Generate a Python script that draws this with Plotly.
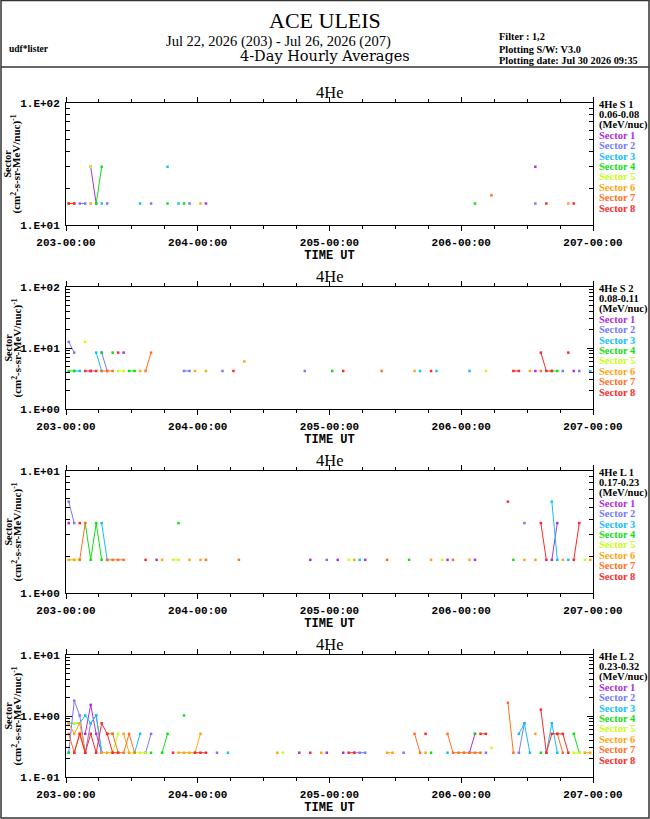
import plotly.graph_objects as go

# ---------------- data (hour index 0..95 from 203-00:00, value) ----------------
SECTOR_NAMES = ["Sector 1", "Sector 2", "Sector 3", "Sector 4",
                "Sector 5", "Sector 6", "Sector 7", "Sector 8"]
SECTOR_COLORS = ["#b030d8", "#7878ff", "#10c0ff", "#10e010",
                 "#c8ff10", "#ffa510", "#ff7020", "#ff2828"]

DAY_TICKS = [0, 24, 48, 72, 96]
DAY_LABELS = ["203-00:00", "204-00:00", "205-00:00", "206-00:00", "207-00:00"]

PANEL_TITLES = ["4He", "4He", "4He", "4He"]
PANEL_CHANNELS = ["4He S 1", "4He S 2", "4He L 1", "4He L 2"]
PANEL_ENERGIES = ["0.06-0.08", "0.08-0.11", "0.17-0.23", "0.23-0.32"]
PANEL_YRANGE_LOG = [(1, 2), (0, 2), (0, 1), (-1, 1)]

# 4He S 1
S1_DATA = [
    [(4, 30), (5, 15), (25, 15), (85, 30)],
    [(2, 15), (3, 15), (7, 15), (15, 15), (22, 15), (85, 15)],
    [(6, 15), (13, 15), (18, 30), (20, 15)],
    [(5, 15), (6, 30), (18, 15), (21, 15), (74, 15)],
    [(4, 30)],
    [(4, 15), (24, 15), (91, 15)],
    [(0, 15), (1, 15), (77, 17.5)],
    [(0, 15), (1, 15), (87, 15), (92, 15)],
]
# 4He S 2
S2_DATA = [
    [(4, 4.2), (10, 8.4), (85, 4.2), (92, 4.2)],
    [(0, 12.6), (1, 8.4), (6, 8.4), (7, 4.2), (21, 4.2), (22, 4.2), (28, 4.2),
     (43, 4.2), (90, 4.2), (93, 4.2)],
    [(1, 4.2), (2, 4.2), (5, 8.4), (6, 4.2), (64, 4.2), (67, 4.2), (73, 4.2), (95, 4.2)],
    [(0, 4.2), (1, 4.2), (6, 8.4), (8, 8.4), (11, 4.2), (12, 4.2), (48, 4.2),
     (88, 4.2), (89, 4.2)],
    [(3, 12.6), (9, 4.2), (10, 4.2), (76, 4.2)],
    [(13, 4.2), (23, 4.2), (25, 4.2), (32, 6.0), (63, 4.2), (84, 4.2)],
    [(6, 4.2), (7, 4.2), (8, 4.2), (14, 4.2), (15, 8.4), (57, 4.2), (86, 4.2)],
    [(3, 4.2), (4, 4.2), (5, 4.2), (9, 8.4), (30, 4.2), (50, 4.2), (66, 4.2),
     (81, 4.2), (82, 4.2), (86, 8.4), (87, 4.2), (88, 4.2), (91, 8.4)],
]
# 4He L 1
L1_DATA = [
    [(0, 3.74), (16, 1.87), (44, 1.87), (49, 1.87), (54, 1.87), (69, 1.87),
     (74, 1.87), (88, 1.87), (89, 3.74)],
    [(0, 5.61), (1, 3.74), (47, 1.87), (83, 3.74)],
    [(6, 3.74), (7, 1.87), (53, 1.87), (88, 5.61), (89, 1.87), (91, 1.87)],
    [(3, 3.74), (4, 1.87), (5, 3.74), (6, 1.87), (20, 3.74), (62, 1.87), (81, 1.87)],
    [(1, 1.87), (2, 1.87), (19, 1.87), (20, 1.87), (51, 1.87), (68, 1.87), (94, 1.87)],
    [(0, 1.87), (1, 1.87), (17, 1.87), (22, 1.87), (24, 1.87), (52, 1.87),
     (66, 1.87), (73, 1.87), (83, 1.87), (85, 1.87), (90, 1.87), (95, 1.87)],
    [(2, 1.87), (3, 3.74), (7, 1.87), (8, 1.87), (9, 1.87), (10, 1.87),
     (25, 1.87), (31, 1.87), (58, 1.87), (70, 1.87)],
    [(2, 3.74), (14, 1.87), (80, 5.61), (86, 3.74), (87, 1.87), (92, 1.87), (93, 3.74)],
]
# 4He L 2
L2_DATA = [
    [(3, 0.51), (4, 1.52), (5, 0.51), (6, 0.25), (42, 0.25), (47, 0.25),
     (50, 0.25), (73, 0.25), (74, 0.51)],
    [(0, 0.25), (1, 1.78), (2, 1.02), (3, 0.25), (4, 0.76), (5, 1.02), (6, 0.25),
     (14, 0.25), (15, 0.51), (27, 0.25), (52, 0.25), (53, 0.25), (54, 0.25),
     (61, 0.25), (76, 0.25), (82, 0.25), (83, 0.76)],
    [(0, 0.76), (1, 0.76), (2, 0.76), (3, 1.02), (4, 0.76), (5, 1.02), (6, 0.25),
     (12, 0.25), (13, 0.51), (29, 0.25), (69, 0.25), (82, 0.51), (83, 0.76),
     (84, 0.25), (87, 0.25), (88, 0.76), (89, 0.25)],
    [(0, 0.25), (8, 0.51), (15, 0.25), (17, 0.25), (18, 0.51), (21, 1.02),
     (66, 0.25), (74, 0.51), (86, 0.25), (92, 0.51), (93, 0.25)],
    [(1, 0.76), (2, 0.76), (8, 0.25), (9, 0.51), (11, 0.25), (12, 0.25),
     (13, 0.25), (14, 0.25), (39, 0.25), (77, 0.30), (92, 0.25), (93, 0.25)],
    [(0, 0.76), (1, 0.51), (2, 0.76), (3, 0.25), (6, 0.25), (7, 0.25), (8, 0.25),
     (10, 0.51), (11, 0.25), (20, 0.25), (21, 0.25), (22, 0.25), (23, 0.25),
     (24, 0.51), (38, 0.25), (46, 0.25), (58, 0.25), (59, 0.25), (65, 0.25),
     (72, 0.25), (85, 0.51), (94, 0.25), (95, 0.25)],
    [(0, 0.51), (1, 0.25), (2, 0.51), (3, 0.25), (7, 0.51), (8, 0.51), (9, 0.25),
     (10, 0.25), (11, 0.51), (12, 0.25), (63, 0.51), (64, 0.25), (69, 0.51),
     (70, 0.25), (71, 0.25), (72, 0.25), (73, 0.25), (74, 0.25), (75, 0.25),
     (80, 1.65), (81, 0.25), (89, 0.51), (90, 0.25)],
    [(1, 0.25), (2, 0.51), (3, 0.25), (4, 0.51), (5, 0.25), (6, 0.76), (7, 0.51),
     (8, 0.25), (9, 0.25), (19, 0.25), (23, 0.25), (24, 0.25), (25, 0.25),
     (44, 0.25), (51, 0.25), (52, 0.25), (65, 0.51), (75, 0.51), (76, 0.51),
     (86, 1.27), (87, 0.25), (88, 0.51), (89, 0.51), (90, 0.51), (91, 0.25)],
]
PANEL_DATA = [S1_DATA, S2_DATA, L1_DATA, L2_DATA]
N_HOURS = 96

# ---------------- layout geometry ----------------
W, H = 650, 819
X_LEFT, X_RIGHT = 66, 593
PANEL_TOPS = [103, 287, 471, 655]
PANEL_HEIGHT = 122
MONO = "Liberation Mono"
SERIF = "Liberation Serif"
WIDE_SERIF = "DejaVu Serif"


def px(p):
    return p / W


def py(p):
    return 1 - p / H


def series(pairs):
    y = [None] * N_HOURS
    for h, v in pairs:
        y[h] = v
    return y


hour_x = [h + 0.5 for h in range(N_HOURS)]

fig = go.Figure()
annotations = []
layout = {}

for i in range(4):
    n = "" if i == 0 else str(i + 1)
    for s in range(8):
        fig.add_trace(go.Scatter(
            x=hour_x, y=series(PANEL_DATA[i][s]), mode="lines+markers",
            line=dict(color=SECTOR_COLORS[s], width=1),
            marker=dict(color=SECTOR_COLORS[s], size=2.5, symbol="square",
                        line=dict(width=0)),
            connectgaps=False, showlegend=False, hoverinfo="skip",
            xaxis="x" + n, yaxis="y" + n))

    top = PANEL_TOPS[i]
    bot = top + PANEL_HEIGHT
    lo, hi = PANEL_YRANGE_LOG[i]
    decades = [10 ** k for k in range(lo, hi + 1)]
    dec_labels = ["1.E%+03d" % k for k in range(lo, hi + 1)]
    minors = [m * 10 ** k for k in range(lo, hi) for m in range(2, 10)]

    layout["xaxis" + n] = dict(
        domain=[px(X_LEFT), px(X_RIGHT)], anchor="y" + n, range=[0, 96],
        automargin=False,
        tickmode="array", tickvals=DAY_TICKS, ticktext=DAY_LABELS,
        ticks="outside", ticklen=5, tickwidth=1, tickcolor="black",
        showline=True, linecolor="black", linewidth=1, mirror="ticks",
        showgrid=False, zeroline=False, ticklabelstandoff=2,
        minor=dict(dtick=6, tick0=0, ticks="outside", ticklen=3,
                   tickcolor="black", tickwidth=1, showgrid=False),
        tickfont=dict(family=MONO, size=11, color="black", weight="bold"),
        title=dict(text="TIME UT", standoff=1,
                   font=dict(family=MONO, size=12, color="black", weight="bold")))
    layout["yaxis" + n] = dict(
        domain=[py(bot), py(top)], anchor="x" + n, type="log",
        automargin=False,
        range=[lo, hi], tickmode="array", tickvals=decades, ticktext=dec_labels,
        ticks="inside", ticklen=6, tickwidth=1, tickcolor="black",
        showline=True, linecolor="black", linewidth=1, mirror="ticks",
        showgrid=False, zeroline=False, ticklabelstandoff=3,
        minor=dict(tickmode="array", tickvals=minors, ticks="inside",
                   ticklen=4, tickcolor="black", tickwidth=1, showgrid=False),
        tickfont=dict(family=MONO, size=11, color="black", weight="bold"))

    # panel title
    annotations.append(dict(
        text=PANEL_TITLES[i], x=px((X_LEFT + X_RIGHT) / 2), y=py(top - 11),
        xref="paper", yref="paper", showarrow=False, xanchor="center",
        yanchor="middle", font=dict(family=SERIF, size=16.5, color="black")))
    # y label
    mid = py(top + PANEL_HEIGHT / 2)
    annotations.append(dict(
        text="Sector", x=px(7.5), y=mid, xref="paper", yref="paper",
        showarrow=False, textangle=-90, xanchor="center", yanchor="middle",
        font=dict(family=SERIF, size=10, color="black", weight="bold")))
    annotations.append(dict(
        text="(cm<sup>2</sup>-s-sr-MeV/nuc)<sup>-1</sup>", x=px(16.5), y=mid,
        xref="paper", yref="paper", showarrow=False, textangle=-90,
        xanchor="center", yanchor="middle",
        font=dict(family=SERIF, size=11, color="black", weight="bold")))
    # right side legend text
    lines = [(PANEL_CHANNELS[i], "black"), (PANEL_ENERGIES[i], "black"),
             ("(MeV/nuc)", "black")] + list(zip(SECTOR_NAMES, SECTOR_COLORS))
    for k, (txt, col) in enumerate(lines):
        annotations.append(dict(
            text=txt, x=px(597), y=py(top + 1.5 + 10.35 * k), xref="paper",
            yref="paper", showarrow=False, xanchor="left", yanchor="middle",
            font=dict(family=SERIF, size=10.5, color=col, weight="bold")))

# header
annotations += [
    dict(text="ACE ULEIS", x=px(325), y=py(20), xref="paper", yref="paper",
         showarrow=False, xanchor="center", yanchor="middle",
         font=dict(family=SERIF, size=22, color="black")),
    dict(text="Jul 22, 2026 (203) - Jul 26, 2026 (207)", x=px(278), y=py(41.5),
         xref="paper", yref="paper", showarrow=False, xanchor="center",
         yanchor="middle", font=dict(family=SERIF, size=14.5, color="black")),
    dict(text="4-Day Hourly Averages", x=px(325), y=py(56.5), xref="paper",
         yref="paper", showarrow=False, xanchor="center", yanchor="middle",
         font=dict(family=WIDE_SERIF, size=14.5, color="black")),
    dict(text="udf*lister", x=px(7), y=py(49), xref="paper", yref="paper",
         showarrow=False, xanchor="left", yanchor="middle",
         font=dict(family=SERIF, size=9.5, color="black", weight="bold")),
    dict(text="Filter : 1,2", x=px(497), y=py(37), xref="paper", yref="paper",
         showarrow=False, xanchor="left", yanchor="middle",
         font=dict(family=SERIF, size=10.3, color="black", weight="bold")),
    dict(text="Plotting S/W: V3.0", x=px(497), y=py(49), xref="paper",
         yref="paper", showarrow=False, xanchor="left", yanchor="middle",
         font=dict(family=SERIF, size=10.3, color="black", weight="bold")),
    dict(text="Plotting date: Jul 30 2026 09:35", x=px(497), y=py(60.5),
         xref="paper", yref="paper", showarrow=False, xanchor="left",
         yanchor="middle",
         font=dict(family=SERIF, size=10.3, color="black", weight="bold")),
]

shapes = [
    dict(type="rect", xref="paper", yref="paper", x0=px(1), x1=px(649),
         y0=py(818), y1=py(0.5), line=dict(color="#333333", width=1.5)),
    dict(type="line", xref="paper", yref="paper", x0=px(1), x1=px(649),
         y0=py(67), y1=py(67), line=dict(color="#333333", width=1.5)),
]

fig.update_layout(
    width=W, height=H,
    margin=dict(l=0, r=0, t=0, b=0, pad=0, autoexpand=False),
    paper_bgcolor="white", plot_bgcolor="white",
    annotations=annotations, shapes=shapes, **layout)

fig.write_html(
    "out.html",
    config={"displayModeBar": False},
    post_script="document.body.style.margin='0';"
                "document.body.style.overflow='hidden';")
